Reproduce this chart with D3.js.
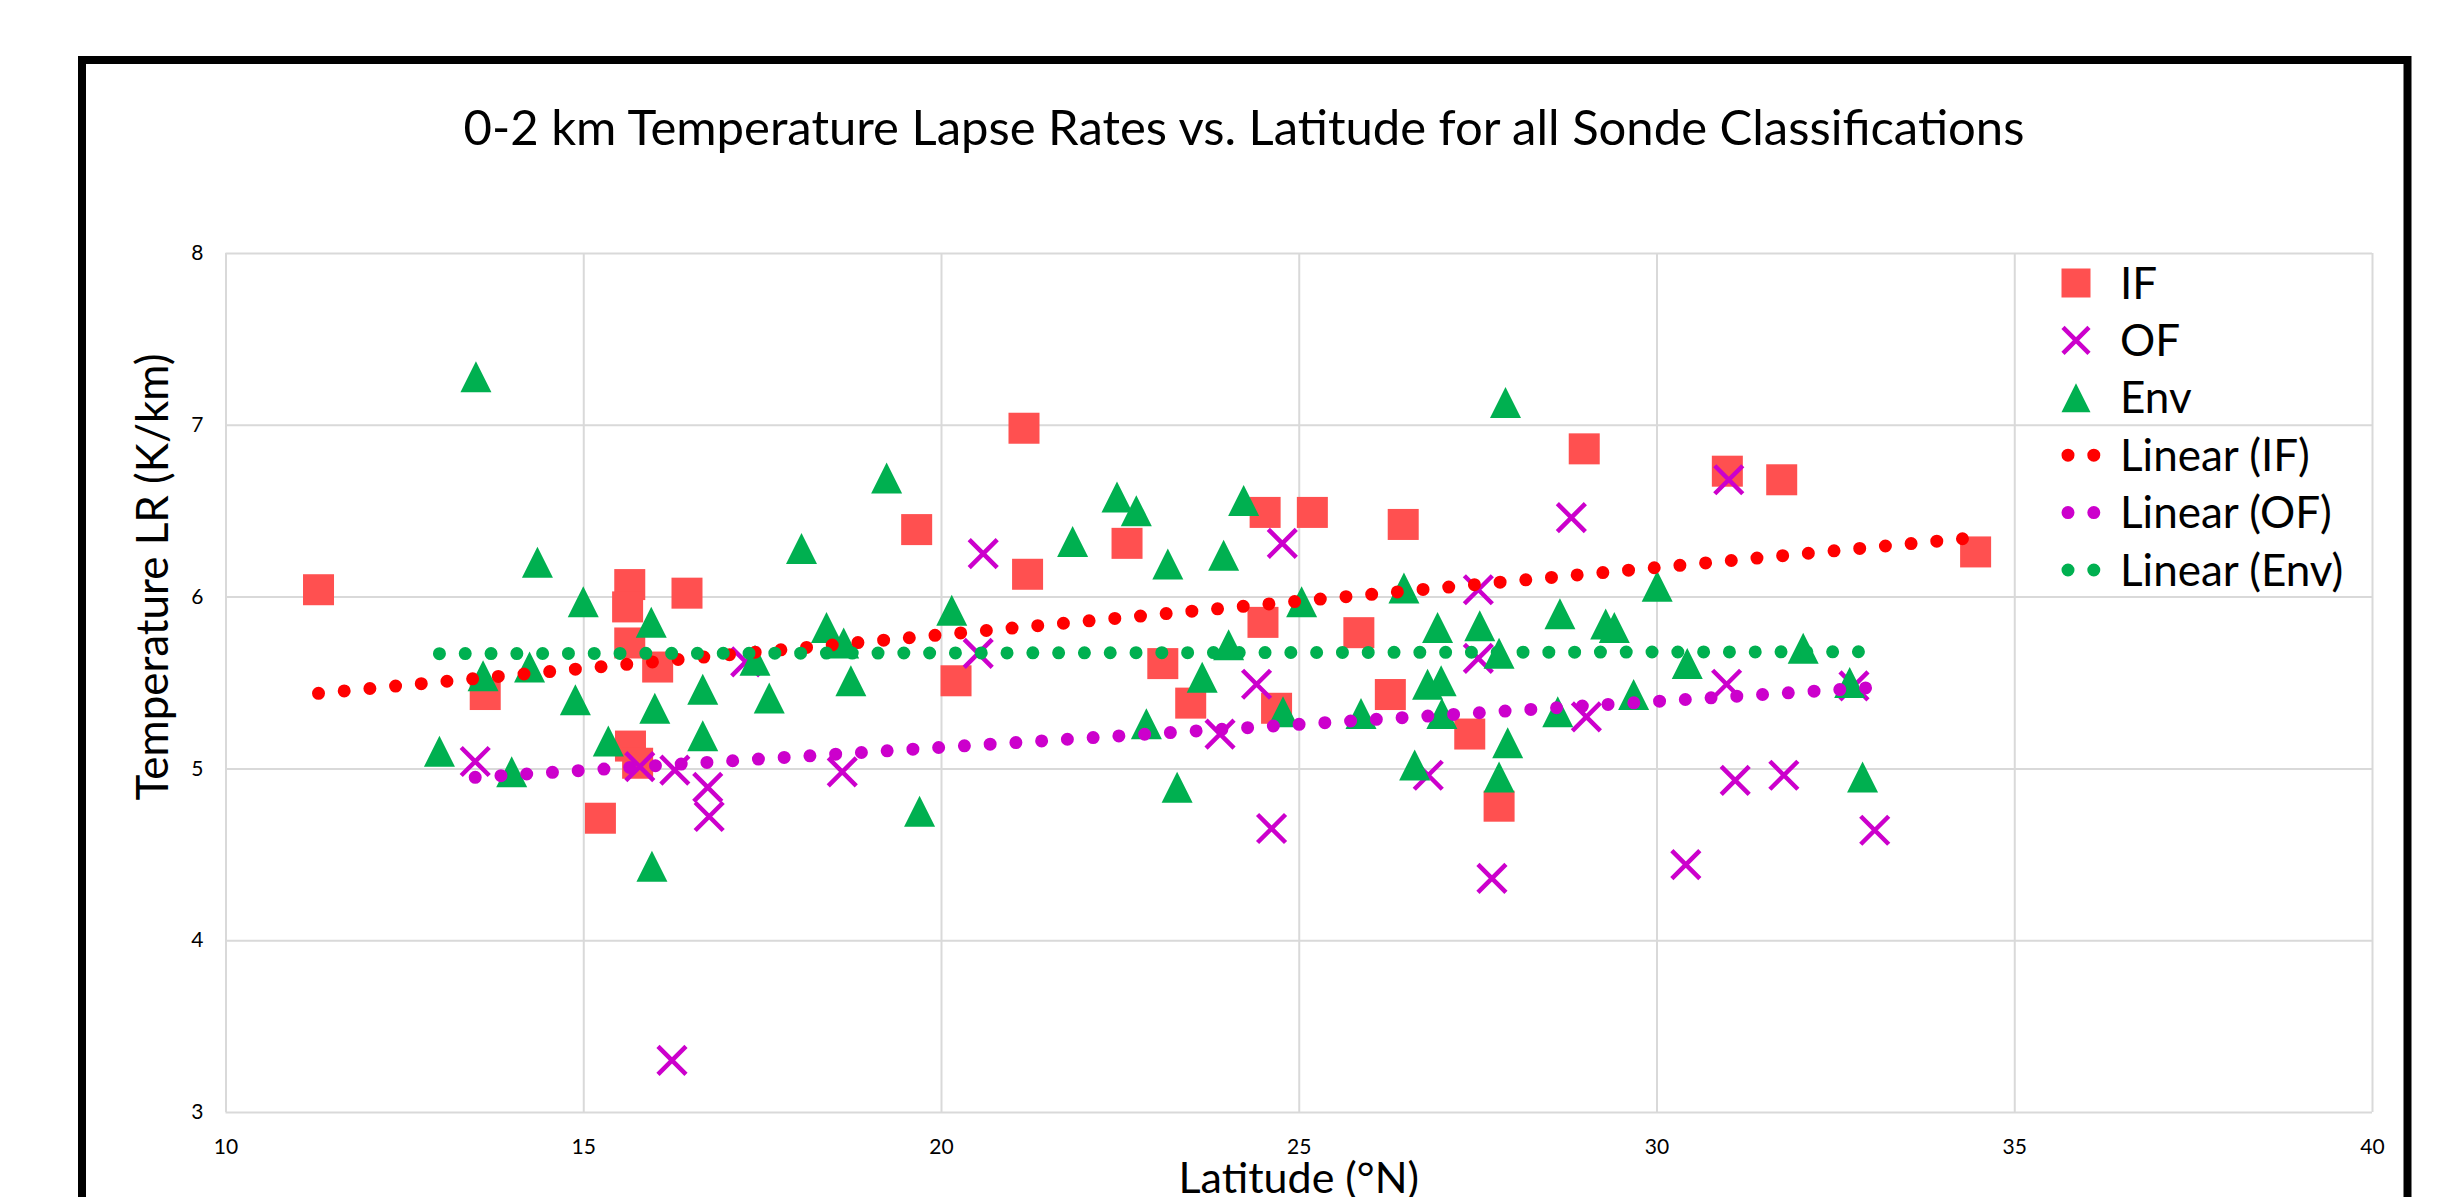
<!DOCTYPE html>
<html>
<head>
<meta charset="utf-8">
<script src="https://cdn.jsdelivr.net/npm/d3@7"></script>
<style>
  body { margin: 0; background: #ffffff; }
  svg text { font-family: Lato, "Open Sans", sans-serif; fill: #000000; }
</style>
</head>
<body>
<svg id="chart"></svg>
<script>
// IF sondes (latitude, 0-2 km lapse rate)
var ifLat = [11.30, 13.63, 15.24, 15.65, 15.62, 15.65, 15.66, 15.76, 16.04, 16.45,
             19.66, 20.21, 21.16, 21.21, 22.60, 23.10, 23.49, 24.50, 24.53, 24.69,
             25.19, 25.84, 26.28, 26.46, 27.39, 27.80, 28.99, 30.99, 31.75, 34.46];
var ifLR  = [6.04, 5.43, 4.71, 6.07, 5.94, 5.73, 5.13, 5.03, 5.59, 6.02,
             6.39, 5.51, 6.98, 6.13, 6.31, 5.61, 5.38, 5.85, 6.49, 5.35,
             6.49, 5.79, 5.43, 6.42, 5.20, 4.78, 6.86, 6.73, 6.68, 6.26];

// OF sondes
var ofLat = [13.49, 15.79, 16.28, 16.24, 16.74, 16.76, 17.27, 18.62, 20.52, 20.59,
             23.90, 24.41, 24.62, 24.77, 26.81, 27.51, 27.51, 27.70, 28.81, 29.02,
             30.41, 30.98, 31.01, 31.10, 31.78, 32.76, 33.05];
var ofLR  = [5.04, 5.01, 4.99, 3.30, 4.89, 4.72, 5.62, 4.98, 5.67, 6.25,
             5.20, 5.49, 4.65, 6.31, 4.96, 6.04, 5.64, 4.36, 6.46, 5.30,
             4.44, 5.49, 6.68, 4.93, 4.96, 5.48, 4.64];

// Env sondes
var envLat = [12.99, 13.50, 13.60, 14.00, 14.25, 14.36, 14.89, 15.00, 15.35, 15.95,
              15.96, 16.00, 16.67, 16.67, 17.40, 17.60, 18.05, 18.40, 18.64, 18.74,
              19.24, 19.70, 20.15, 21.84, 22.46, 22.73, 22.87, 23.17, 23.30, 23.65,
              23.95, 24.02, 24.23, 24.78, 25.04, 25.87, 26.47, 26.62, 26.80, 26.94,
              26.99, 27.00, 27.53, 27.80, 27.80, 27.89, 27.92, 28.62, 28.65, 29.29,
              29.41, 29.68, 30.01, 30.43, 32.05, 32.70, 32.88];
var envLR  = [5.10, 7.28, 5.54, 4.98, 5.59, 6.20, 5.40, 5.97, 5.16, 5.85,
              4.43, 5.35, 5.46, 5.19, 5.63, 5.41, 6.28, 5.82, 5.73, 5.51,
              6.69, 4.75, 5.92, 6.32, 6.58, 6.50, 5.26, 6.19, 4.89, 5.53,
              6.24, 5.72, 6.56, 5.33, 5.97, 5.32, 6.05, 5.02, 5.49, 5.82,
              5.51, 5.32, 5.83, 5.67, 4.95, 7.13, 5.15, 5.33, 5.90, 5.84,
              5.82, 5.43, 6.06, 5.61, 5.70, 5.50, 4.95];

// linear trendline end points
var trendIF  = [[11.30, 5.437], [34.46, 6.344]];
var trendOF  = [[13.49, 4.948], [33.05, 5.472]];
var trendEnv = [[12.99, 5.668], [32.88, 5.679]];

var xTicks = [10, 15, 20, 25, 30, 35, 40];
var yTicks = [3, 4, 5, 6, 7, 8];
var legendNames = ["IF", "OF", "Env", "Linear (IF)", "Linear (OF)", "Linear (Env)"];

var screen = { width: 2439, height: 1197 };
var plot = { left: 225.5, right: 2372, top: 253, bottom: 1112 };

var colors = {
  ifMark: "#FF5050", ofMark: "#CC00CC", envMark: "#00B050",
  ifLine: "#FF0000", ofLine: "#CC00CC", envLine: "#00B050",
  grid: "#D9D9D9"
};

var svg = d3.select("#chart")
            .attr("width", screen.width)
            .attr("height", screen.height);

var xScale = d3.scaleLinear().domain([10, 40]).range([plot.left, plot.right]);
var yScale = d3.scaleLinear().domain([3, 8]).range([plot.bottom, plot.top]);

// outer black frame (runs off the bottom of the picture)
svg.append("rect")
   .attr("x", 82).attr("y", 60)
   .attr("width", 2407.5 - 82).attr("height", 1300)
   .attr("fill", "none")
   .attr("stroke", "#000")
   .attr("stroke-width", 8);

// title
svg.append("text")
   .attr("x", 1244).attr("y", 145)
   .attr("text-anchor", "middle")
   .style("font-size", "49px")
   .text("0-2 km Temperature Lapse Rates vs. Latitude for all Sonde Classifications");

//gridlines + tick labels
var xAxis = d3.axisBottom(xScale)
              .tickValues(xTicks)
              .tickSize(-(plot.bottom - plot.top))
              .tickPadding(27)
              .tickFormat(d3.format("d"));

var yAxis = d3.axisLeft(yScale)
              .tickValues(yTicks)
              .tickSize(-(plot.right - plot.left))
              .tickPadding(22)
              .tickFormat(d3.format("d"));

var gx = svg.append("g")
            .attr("transform", "translate(0," + plot.bottom + ")")
            .call(xAxis);
var gy = svg.append("g")
            .attr("transform", "translate(" + plot.left + ",0)")
            .call(yAxis);

[gx, gy].forEach(function(g) {
  g.select(".domain").remove();
  g.selectAll(".tick line").attr("stroke", colors.grid).attr("stroke-width", 2);
  g.selectAll(".tick text")
   .attr("fill", "#000")
   .style("font-family", "Lato, sans-serif")
   .style("font-size", "21px");
});

// axis titles
svg.append("text")
   .attr("transform", "translate(168,577) rotate(-90)")
   .attr("text-anchor", "middle")
   .style("font-size", "44px")
   .text("Temperature LR (K/km)");

svg.append("text")
   .attr("x", (plot.left + plot.right) / 2).attr("y", 1193)
   .attr("text-anchor", "middle")
   .style("font-size", "43px")
   .text("Latitude (°N)");

// marker shapes
var sq = 31;
var triPath = function(s) {
  var h = s / 2;
  return "M0," + (-h) + "L" + h + "," + h + "L" + (-h) + "," + h + "Z";
};
var xPath = function(s) {
  var h = s / 2 - 1.5;
  return "M" + (-h) + "," + (-h) + "L" + h + "," + h + "M" + h + "," + (-h) + "L" + (-h) + "," + h;
};

var ifData = ifLat.map(function(d, i) { return [d, ifLR[i]]; });
var ofData = ofLat.map(function(d, i) { return [d, ofLR[i]]; });
var envData = envLat.map(function(d, i) { return [d, envLR[i]]; });

svg.append("g").selectAll("rect")
   .data(ifData)
   .enter()
   .append("rect")
   .attr("x", function(d) { return xScale(d[0]) - sq / 2; })
   .attr("y", function(d) { return yScale(d[1]) - sq / 2; })
   .attr("width", sq).attr("height", sq)
   .attr("fill", colors.ifMark);

svg.append("g").selectAll("path")
   .data(ofData)
   .enter()
   .append("path")
   .attr("transform", function(d) { return "translate(" + xScale(d[0]) + "," + yScale(d[1]) + ")"; })
   .attr("d", xPath(sq))
   .attr("fill", "none")
   .attr("stroke", colors.ofMark)
   .attr("stroke-width", 4.5);

svg.append("g").selectAll("path")
   .data(envData)
   .enter()
   .append("path")
   .attr("transform", function(d) { return "translate(" + xScale(d[0]) + "," + yScale(d[1]) + ")"; })
   .attr("d", triPath(sq))
   .attr("fill", colors.envMark);

// round-dot trendlines
var line = d3.line()
             .x(function(d) { return xScale(d[0]); })
             .y(function(d) { return yScale(d[1]); });

var dotLine = function(sel, color) {
  return sel.attr("fill", "none")
            .attr("stroke", color)
            .attr("stroke-width", 13)
            .attr("stroke-linecap", "round")
            .attr("stroke-dasharray", "0 25.8");
};

dotLine(svg.append("path").attr("d", line(trendIF)), colors.ifLine);
dotLine(svg.append("path").attr("d", line(trendOF)), colors.ofLine);
dotLine(svg.append("path").attr("d", line(trendEnv)), colors.envLine);

//legend
var legendY = d3.scalePoint().domain(legendNames).range([283, 570]);
var legend = svg.append("g").classed("legend", true);
var legendMark = 29;

legend.append("rect")
      .attr("x", 2076 - legendMark / 2).attr("y", legendY("IF") - legendMark / 2)
      .attr("width", legendMark).attr("height", legendMark)
      .attr("fill", colors.ifMark);
legend.append("path")
      .attr("transform", "translate(2076," + legendY("OF") + ")")
      .attr("d", xPath(legendMark))
      .attr("fill", "none")
      .attr("stroke", colors.ofMark)
      .attr("stroke-width", 4.5);
legend.append("path")
      .attr("transform", "translate(2076," + legendY("Env") + ")")
      .attr("d", triPath(legendMark))
      .attr("fill", colors.envMark);

[["Linear (IF)", colors.ifLine], ["Linear (OF)", colors.ofLine], ["Linear (Env)", colors.envLine]]
  .forEach(function(p) {
    dotLine(legend.append("path")
                  .attr("d", "M2068," + legendY(p[0]) + "H2095"), p[1]);
  });

legend.selectAll("text")
      .data(legendNames)
      .enter()
      .append("text")
      .attr("x", 2120)
      .attr("y", function(d) { return legendY(d) + 15.5; })
      .style("font-size", "44px")
      .text(function(d) { return d; });
</script>
</body>
</html>
